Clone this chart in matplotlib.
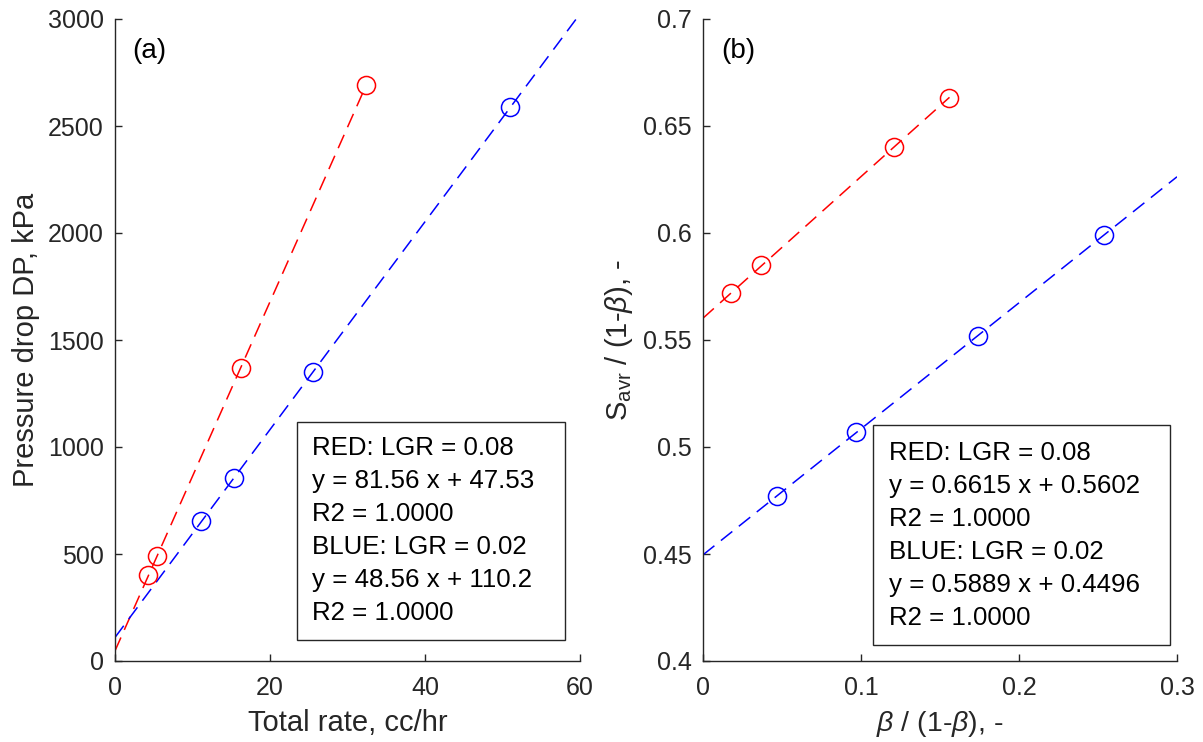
import matplotlib
matplotlib.use("Agg")
import matplotlib.pyplot as plt
import numpy as np
from matplotlib.patches import Rectangle

plt.rcParams['font.family'] = ['Liberation Sans', 'DejaVu Sans']
plt.rcParams['mathtext.fontset'] = 'custom'
plt.rcParams['mathtext.rm'] = 'Liberation Sans'
plt.rcParams['mathtext.it'] = 'Liberation Sans:italic'
plt.rcParams['lines.scale_dashes'] = False

# ---- data (a) ----
a_red_x = [4.3, 5.4, 16.2, 32.4]
a_red_y = [400, 490, 1370, 2690]
a_blue_x = [11.1, 15.3, 25.5, 51.0]
a_blue_y = [655, 855, 1350, 2590]
a_red_fit = (81.56, 47.53)
a_blue_fit = (48.56, 110.2)
a_text = ["RED: LGR = 0.08", "y = 81.56 x + 47.53", "R2 = 1.0000",
          "BLUE: LGR = 0.02", "y = 48.56 x + 110.2", "R2 = 1.0000"]

# ---- data (b) ----
b_red_x = [0.018, 0.037, 0.121, 0.156]
b_red_y = [0.572, 0.585, 0.640, 0.663]
b_blue_x = [0.047, 0.097, 0.174, 0.254]
b_blue_y = [0.477, 0.507, 0.552, 0.599]
b_red_fit = (0.6615, 0.5602)
b_blue_fit = (0.5889, 0.4496)
b_text = ["RED: LGR = 0.08", "y = 0.6615 x + 0.5602", "R2 = 1.0000",
          "BLUE: LGR = 0.02", "y = 0.5889 x + 0.4496", "R2 = 1.0000"]

W, H = 1203, 742
fig = plt.figure(figsize=(W / 100, H / 100), dpi=100)
axc = '#262626'
fs = 18
fs_txt = 18.6
fs_lab = 21

ax1 = fig.add_axes([115 / W, (H - 661) / H, 465 / W, 642 / H])
ax2 = fig.add_axes([703 / W, (H - 661) / H, 474 / W, 642 / H])

dash = (0, (10.5, 6))


def style(ax):
    for s in ['top', 'right']:
        ax.spines[s].set_visible(False)
    for s in ['left', 'bottom']:
        ax.spines[s].set_color(axc)
        ax.spines[s].set_linewidth(1.0)
    ax.tick_params(direction='in', length=5, width=1.0, colors=axc,
                   labelsize=fs, pad=8)
    ax.tick_params(axis='x', pad=11)


# panel (a)
xr = np.array([0, a_red_x[-1]])
ax1.plot(xr, a_red_fit[0] * xr + a_red_fit[1], color='#ff0000', lw=1.1, ls=dash)
xb = np.array([0, 60])
ax1.plot(xb, a_blue_fit[0] * xb + a_blue_fit[1], color='#0000ff', lw=1.1, ls=dash)
ax1.plot(a_red_x, a_red_y, 'o', mfc='none', mec='#ff0000', ms=13, mew=1.1)
ax1.plot(a_blue_x, a_blue_y, 'o', mfc='none', mec='#0000ff', ms=13, mew=1.1)
ax1.set_xlim(0, 60)
ax1.set_ylim(0, 3000)
ax1.set_xticks([0, 20, 40, 60])
ax1.set_yticks([0, 500, 1000, 1500, 2000, 2500, 3000])
style(ax1)
ax1.set_xlabel('Total rate, cc/hr', fontsize=fs_lab, color=axc, labelpad=6)
ax1.set_ylabel('Pressure drop DP, kPa', fontsize=fs_lab, color=axc, labelpad=6)
ax1.text(0.038, 0.95, '(a)', transform=ax1.transAxes, fontsize=20,
         color='k', ha='left', va='center')
ax1.add_patch(Rectangle((0.391, 0.0327), 0.577, 0.3393, transform=ax1.transAxes,
                        fill=True, fc='white', ec='#262626', lw=1.0, zorder=5,
                        clip_on=False))
for i, t in enumerate(a_text):
    ax1.text(0.4237, 0.3318 - i * 0.0514, t, transform=ax1.transAxes,
             fontsize=fs_txt, color='k', ha='left', va='center', zorder=6)

# panel (b)
xr = np.array([0, b_red_x[-1]])
ax2.plot(xr, b_red_fit[0] * xr + b_red_fit[1], color='#ff0000', lw=1.1, ls=dash)
xb = np.array([0, 0.3])
ax2.plot(xb, b_blue_fit[0] * xb + b_blue_fit[1], color='#0000ff', lw=1.1, ls=dash)
ax2.plot(b_red_x, b_red_y, 'o', mfc='none', mec='#ff0000', ms=13, mew=1.1)
ax2.plot(b_blue_x, b_blue_y, 'o', mfc='none', mec='#0000ff', ms=13, mew=1.1)
ax2.set_xlim(0, 0.3)
ax2.set_ylim(0.4, 0.7)
ax2.set_xticks([0, 0.1, 0.2, 0.3])
ax2.set_xticklabels(['0', '0.1', '0.2', '0.3'])
ax2.set_yticks([0.4, 0.45, 0.5, 0.55, 0.6, 0.65, 0.7])
ax2.set_yticklabels(['0.4', '0.45', '0.5', '0.55', '0.6', '0.65', '0.7'])
style(ax2)
ax2.set_xlabel(r'$\mathit{\beta}$ / (1-$\mathit{\beta}$), -', fontsize=20.5, color=axc, labelpad=6)
ax2.set_ylabel(r'S$_{\mathrm{avr}}$ / (1-$\mathit{\beta}$), -', fontsize=fs_lab, color=axc, labelpad=6)
ax2.text(0.038, 0.95, '(b)', transform=ax2.transAxes, fontsize=20,
         color='k', ha='left', va='center')
ax2.add_patch(Rectangle((0.3586, 0.0249), 0.6264, 0.3427, transform=ax2.transAxes,
                        fill=True, fc='white', ec='#262626', lw=1.0, zorder=5,
                        clip_on=False))
for i, t in enumerate(b_text):
    ax2.text(0.3924, 0.324 - i * 0.0514, t, transform=ax2.transAxes,
             fontsize=fs_txt, color='k', ha='left', va='center', zorder=6)

fig.savefig('out.png', dpi=100)
